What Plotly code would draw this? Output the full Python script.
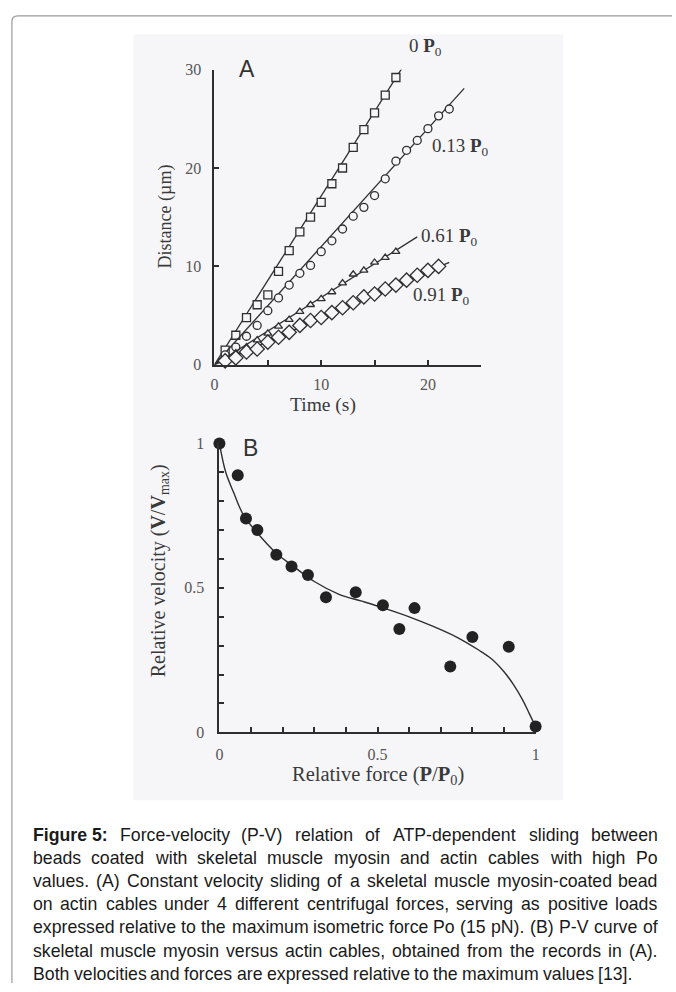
import plotly.graph_objects as go

W, H = 676, 992

# ---------------- Panel A data (Time s, Distance um) ----------------
t_p00 = [1, 2, 3, 4, 5, 6, 7, 8, 9, 10, 11, 12, 13, 14, 15, 16, 17]
d_p00 = [1.5, 3.0, 4.8, 6.1, 7.1, 9.5, 11.6, 13.5, 15.0, 16.5, 18.4, 20.0, 22.1, 23.9, 25.6, 27.4, 29.2]
fit_t_p00 = [0, 17.6]
fit_d_p00 = [0, 30.2]

t_p13 = list(range(1, 23))
d_p13 = [1.0, 1.8, 2.9, 4.0, 5.5, 6.8, 8.1, 9.3, 10.1, 11.5, 12.6, 13.8, 15.1, 16.0, 17.2,
         18.9, 20.7, 21.8, 22.8, 24.0, 25.3, 26.0]
fit_t_p13 = [0, 23.4]
fit_d_p13 = [0, 28.1]

t_p61 = list(range(1, 18))
d_p61 = [0.6, 1.2, 1.8, 2.5, 3.2, 3.9, 4.6, 5.4, 6.1, 6.7, 7.4, 8.3, 9.2, 9.6, 10.4, 10.9, 11.5]
fit_t_p61 = [0, 19.0]
fit_d_p61 = [0, 13.0]

t_p91 = list(range(1, 22))
d_p91 = [0.4, 0.7, 1.3, 1.6, 2.3, 2.8, 3.3, 4.0, 4.5, 4.8, 5.3, 5.8, 6.3, 6.9, 7.2, 7.7, 8.1,
         8.6, 9.1, 9.6, 10.0]
fit_t_p91 = [0, 22.0]
fit_d_p91 = [0, 10.4]

series_labels = ["0 <b>P</b><sub>0</sub>", "0.13 <b>P</b><sub>0</sub>",
                 "0.61 <b>P</b><sub>0</sub>", "0.91 <b>P</b><sub>0</sub>"]

# ---------------- Panel B data (relative force, relative velocity) ----------------
force_pts = [0.0, 0.058, 0.084, 0.12, 0.18, 0.228, 0.28, 0.337, 0.431, 0.517, 0.569, 0.617,
             0.73, 0.80, 0.915, 1.0]
vel_pts = [1.0, 0.89, 0.74, 0.70, 0.615, 0.574, 0.545, 0.468, 0.485, 0.44, 0.358, 0.43,
           0.228, 0.33, 0.296, 0.02]

curve_force = [0.0, 0.02, 0.045, 0.077, 0.12, 0.18, 0.23, 0.30, 0.38, 0.45, 0.52, 0.60,
               0.68, 0.75, 0.82, 0.86, 0.90, 0.93, 0.96, 0.98, 1.0]
curve_vel = [1.0, 0.90, 0.83, 0.75, 0.69, 0.62, 0.578, 0.522, 0.477, 0.454, 0.43, 0.40,
             0.365, 0.33, 0.285, 0.255, 0.21, 0.165, 0.11, 0.065, 0.02]

caption_lines = [
    "Figure 5: Force-velocity (P-V) relation of ATP-dependent sliding between",
    "beads coated with skeletal muscle myosin and actin cables with high Po",
    "values. (A) Constant velocity sliding of a skeletal muscle myosin-coated bead",
    "on actin cables under 4 different centrifugal forces, serving as positive loads",
    "expressed relative to the maximum isometric force Po (15 pN). (B) P-V curve of",
    "skeletal muscle myosin versus actin cables, obtained from the records in (A).",
    "Both velocities and forces are expressed relative to the maximum values [13].",
]

# ------------------------------------------------------------------
def px(x):
    return x / W

def py(y):
    return 1 - y / H

INK = "#2e2e2e"
SCAN_BG = "#f6f6f9"
SERIF = "Liberation Serif"
SANS = "Liberation Sans"

fig = go.Figure()

# Panel A lines + markers
specs = [
    (t_p00, d_p00, fit_t_p00, fit_d_p00, "square", 8),
    (t_p13, d_p13, fit_t_p13, fit_d_p13, "circle", 8),
    (t_p61, d_p61, fit_t_p61, fit_d_p61, "triangle-up", 7),
    (t_p91, d_p91, fit_t_p91, fit_d_p91, "diamond", 11),
]
for tt, dd, ft, fd, sym, ms in specs:
    fig.add_trace(go.Scatter(x=ft, y=fd, mode="lines", line=dict(color=INK, width=1.3),
                             xaxis="x", yaxis="y", showlegend=False, hoverinfo="skip"))
    fig.add_trace(go.Scatter(x=tt, y=dd, mode="markers", cliponaxis=False,
                             marker=dict(symbol=sym, size=ms, color=SCAN_BG, line=dict(width=1.3, color=INK)),
                             xaxis="x", yaxis="y", showlegend=False))

# Panel B
fig.add_trace(go.Scatter(x=curve_force, y=curve_vel, mode="lines",
                         line=dict(color=INK, width=1.4, shape="spline", smoothing=1.0),
                         xaxis="x2", yaxis="y2", showlegend=False, hoverinfo="skip"))
fig.add_trace(go.Scatter(x=force_pts, y=vel_pts, mode="markers", cliponaxis=False,
                         marker=dict(symbol="circle", size=12, color="#222222"),
                         xaxis="x2", yaxis="y2", showlegend=False))

axis_common = dict(showgrid=False, zeroline=False, showline=True, linecolor=INK, linewidth=2,
                   ticks="inside", tickcolor=INK, tickwidth=2, ticklen=5,
                   tickfont=dict(family=SERIF, size=16, color="#555555"))

fig.update_layout(
    width=W, height=H, margin=dict(l=0, r=0, t=0, b=0),
    paper_bgcolor="white", plot_bgcolor="rgba(0,0,0,0)",
    xaxis=dict(domain=[px(213), px(483)], range=[0, 25], tickvals=[0, 5, 10, 15, 20, 25],
               ticktext=["0", "", "10", "", "20", ""], anchor="y", ticklabelstandoff=4, **axis_common),
    yaxis=dict(domain=[py(363), py(62.7)], range=[0, 30], tickvals=[0, 10, 20, 30],
               ticktext=["0", "10", "20", "30"], anchor="x", ticklabelstandoff=8, **axis_common),
    xaxis2=dict(domain=[px(218), px(538)], range=[0, 1], tickvals=[i / 10 for i in range(11)],
                ticktext=["0", "", "", "", "", "0.5", "", "", "", "", "1"], anchor="y2",
                ticklabelstandoff=6, **axis_common),
    yaxis2=dict(domain=[py(737), py(443)], range=[0, 1], tickvals=[i / 10 for i in range(11)],
                ticktext=["0", "", "", "", "", "0.5", "", "", "", "", "1"], anchor="x2",
                ticklabelstandoff=10, **axis_common),
)

shapes = []
# scanned-figure background
shapes.append(dict(type="rect", xref="paper", yref="paper", x0=px(131), x1=px(566), y0=py(806), y1=py(27),
                   fillcolor=SCAN_BG, line=dict(width=0), layer="below"))
# page frame (left + top with rounded corner)
r = 6
path = (f"M {px(8)},{py(992)} L {px(8)},{py(8 + r)} "
        f"Q {px(8)},{py(8)} {px(8 + r)},{py(8)} L {px(676)},{py(8)}")
shapes.append(dict(type="path", xref="paper", yref="paper", path=path,
                   line=dict(color="#9a9a9a", width=1.2)))
fig.update_layout(shapes=shapes)

ann = []
def add_text(x, y, text, size, family=SERIF, color="#3a3a3a", xanchor="center", yanchor="middle", angle=0):
    ann.append(dict(x=px(x), y=py(y), xref="paper", yref="paper", text=text, showarrow=False,
                    xanchor=xanchor, yanchor=yanchor, textangle=angle,
                    font=dict(family=family, size=size, color=color)))

# Panel A texts
add_text(236, 62, "A", 23, family=SANS, color="#333333", xanchor="left")
label_pos = [(408, 40), (431, 141), (420, 233), (412, 293)]
for (lx, ly), lab in zip(label_pos, series_labels):
    add_text(lx, ly, lab, 19, xanchor="left")
add_text(163, 212, "Distance (µm)", 18, angle=-90)
add_text(323, 404, "Time (s)", 19.5)

# Panel B texts
add_text(240, 448, "B", 23, family=SANS, color="#333333", xanchor="left")
add_text(157, 573, "Relative velocity (<b>V</b>/<b>V</b><sub>max</sub>)", 20, angle=-90)
add_text(378, 781, "Relative force (<b>P</b>/<b>P</b><sub>0</sub>)", 20.5)

# ---------------- caption with justified lines ----------------
AR = {' ': 278, '!': 278, '(': 333, ')': 333, ',': 278, '-': 333, '.': 278, '/': 278, ':': 278,
      '[': 278, ']': 278,
      'A': 667, 'B': 667, 'C': 722, 'D': 722, 'E': 667, 'F': 611, 'G': 778, 'H': 722, 'I': 278,
      'J': 500, 'K': 667, 'L': 556, 'M': 833, 'N': 722, 'O': 778, 'P': 667, 'Q': 778, 'R': 722,
      'S': 667, 'T': 611, 'U': 722, 'V': 667, 'W': 944, 'X': 667, 'Y': 667, 'Z': 611,
      'a': 556, 'b': 556, 'c': 500, 'd': 556, 'e': 556, 'f': 278, 'g': 556, 'h': 556, 'i': 222,
      'j': 222, 'k': 500, 'l': 222, 'm': 833, 'n': 556, 'o': 556, 'p': 556, 'q': 556, 'r': 333,
      's': 500, 't': 278, 'u': 556, 'v': 500, 'w': 722, 'x': 500, 'y': 500, 'z': 500}
for dgt in "0123456789":
    AR[dgt] = 556
ARB = dict(AR)
ARB.update({'i': 278, 'g': 611, 'u': 611, 'r': 389, ':': 333})

CAP_SIZE = 17.7
CAP_LEFT, CAP_RIGHT = 27, 659
cap_y0, cap_dy = 841, 23.6

def wwidth(word, bold=False):
    tab = ARB if bold else AR
    return sum(tab.get(c, 556) for c in word) * CAP_SIZE / 1000.0

for i, line in enumerate(caption_lines):
    y = cap_y0 + i * cap_dy
    words = line.split(" ")
    tokens = []
    if i == 0:
        tokens.append(("Figure 5:", True))
        words = words[2:]
    tokens += [(w, False) for w in words]
    widths = [wwidth(w, b) for w, b in tokens]
    if i < len(caption_lines) - 1:
        gap = (CAP_RIGHT - CAP_LEFT - sum(widths)) / (len(tokens) - 1)
    else:
        gap = AR[' '] * CAP_SIZE / 1000.0
    x = CAP_LEFT
    for (w, b), wd in zip(tokens, widths):
        txt = f"<b>{w}</b>" if b else w
        add_text(x, y, txt, CAP_SIZE, family=SANS, color="#1a1a1a", xanchor="left")
        x += wd + gap

fig.update_layout(annotations=ann)
fig.write_html("out.html")
